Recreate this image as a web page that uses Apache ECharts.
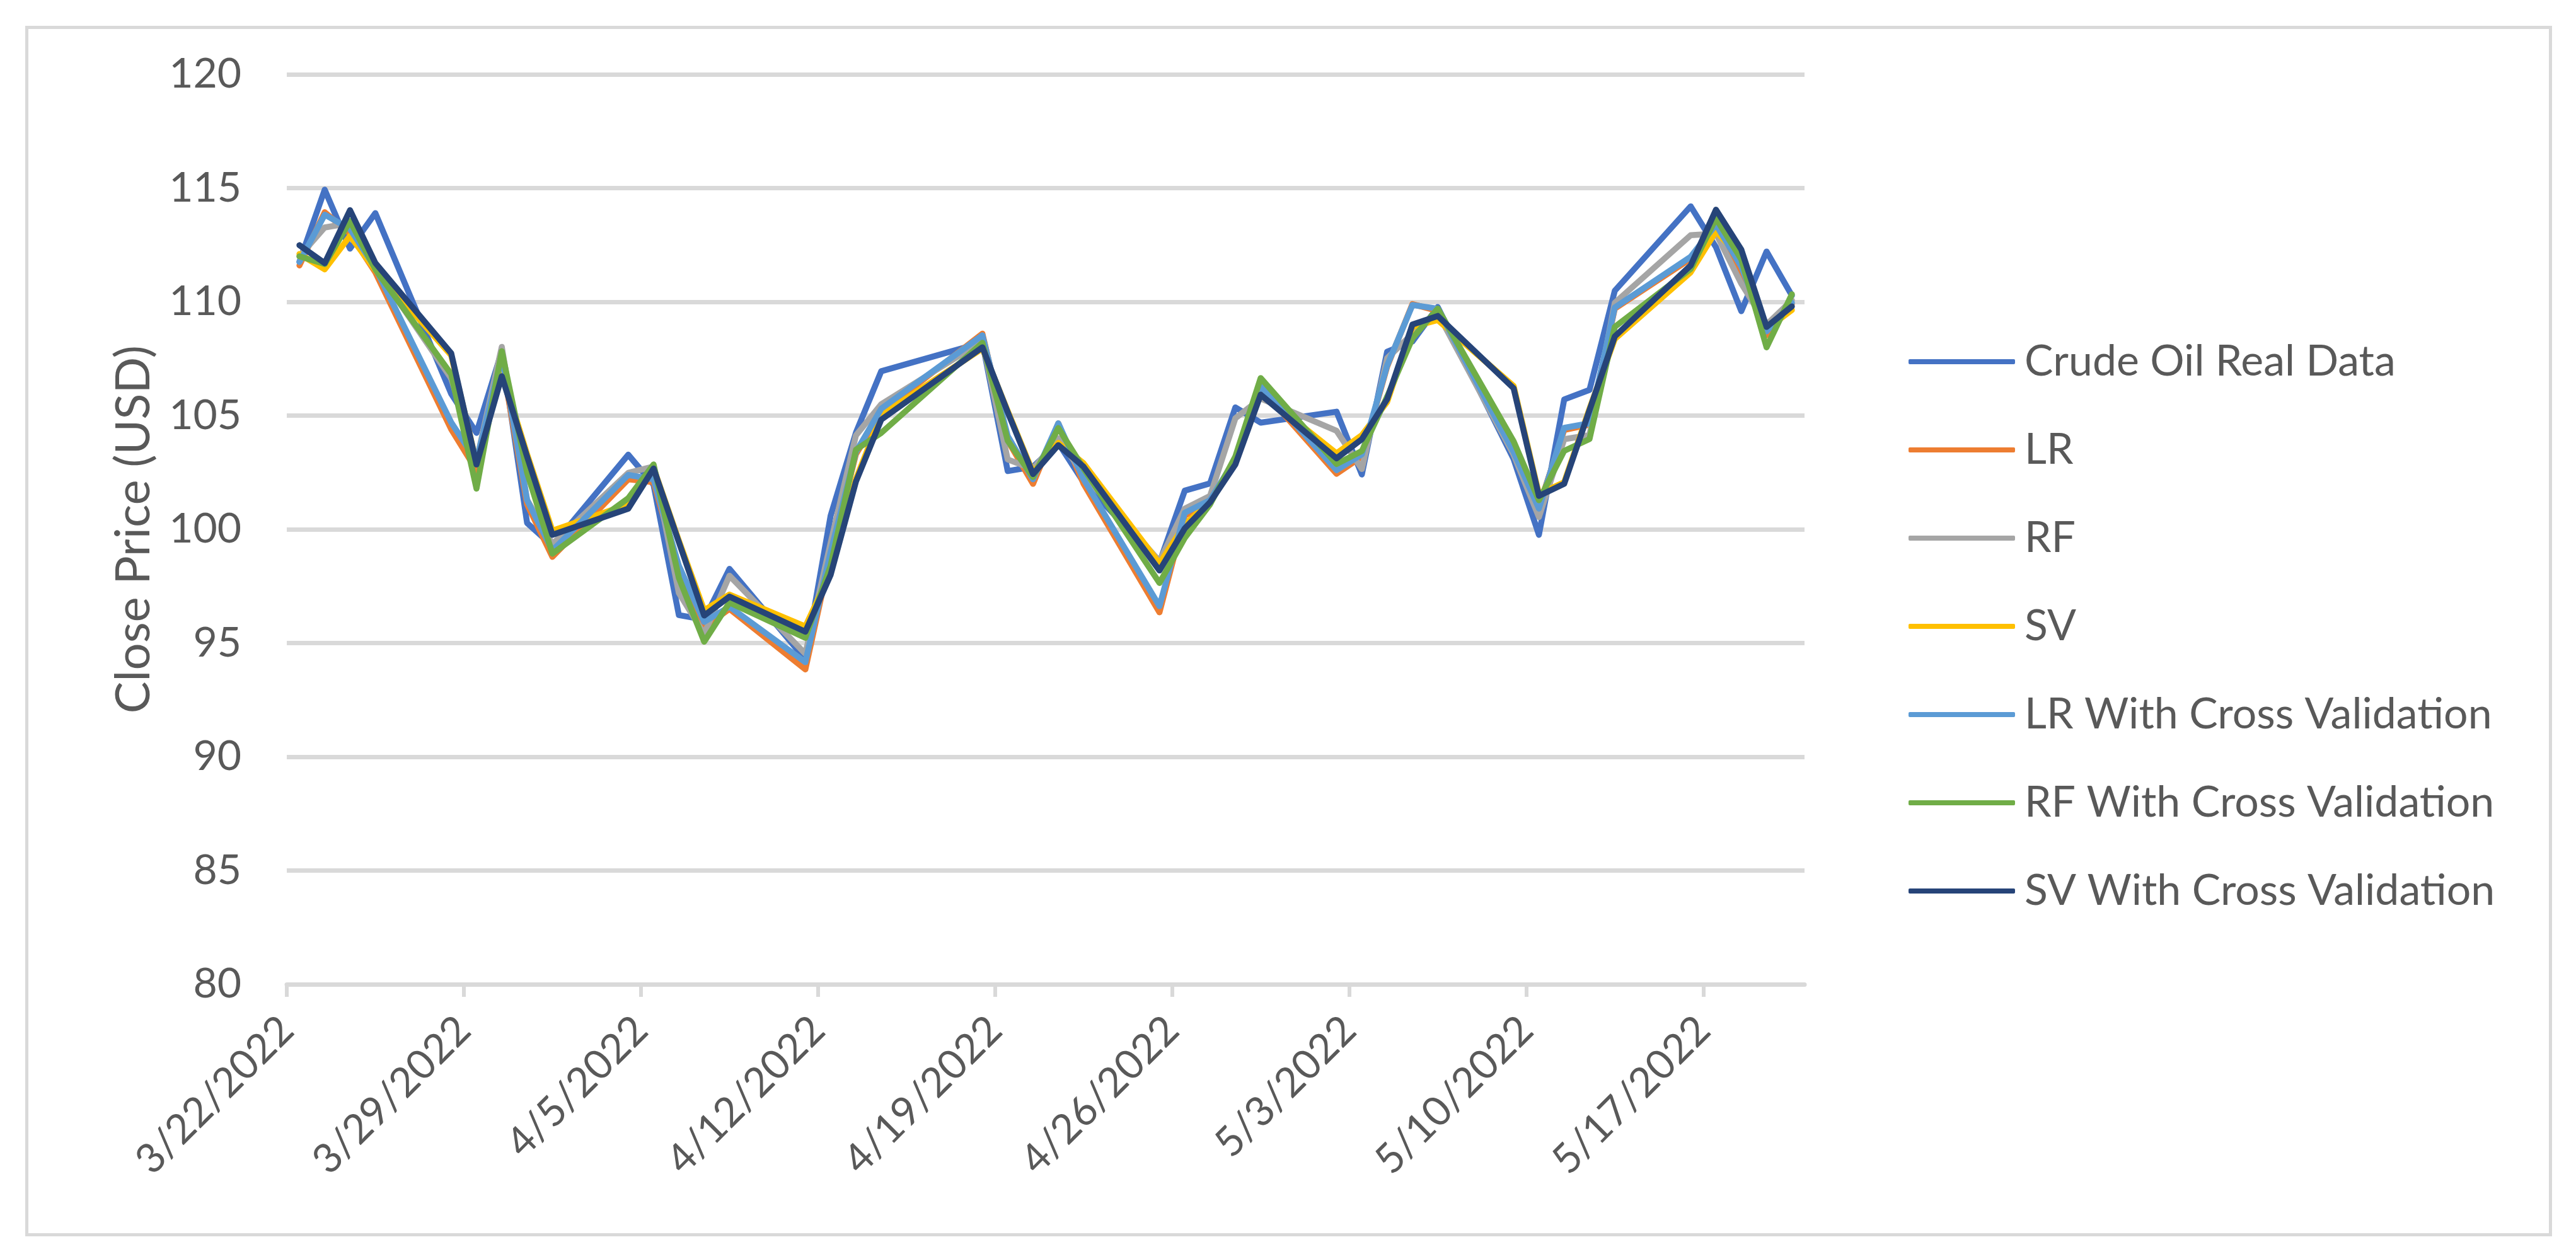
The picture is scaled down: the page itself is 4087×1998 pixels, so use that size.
<!DOCTYPE html>
<html><head><meta charset="utf-8">
<script src="https://cdn.jsdelivr.net/npm/echarts/dist/echarts.min.js"></script>
<style>html,body{margin:0;padding:0;background:#fff}#c{width:4087px;height:1998px}</style>
</head><body><div id="c"></div>
<script>
const dates = ['3/22/2022','3/23/2022','3/24/2022','3/25/2022',
  '3/28/2022','3/29/2022','3/30/2022','3/31/2022','4/1/2022',
  '4/4/2022','4/5/2022','4/6/2022','4/7/2022','4/8/2022',
  '4/11/2022','4/12/2022','4/13/2022','4/14/2022',
  '4/18/2022','4/19/2022','4/20/2022','4/21/2022','4/22/2022',
  '4/25/2022','4/26/2022','4/27/2022','4/28/2022','4/29/2022',
  '5/2/2022','5/3/2022','5/4/2022','5/5/2022','5/6/2022',
  '5/9/2022','5/10/2022','5/11/2022','5/12/2022','5/13/2022',
  '5/16/2022','5/17/2022','5/18/2022','5/19/2022','5/20/2022'];
const crude = [111.76,114.93,112.34,113.90, 105.96,104.24,107.82,100.28,99.27, 103.28,101.96,96.23,96.03,98.26, 94.29,100.60,104.25,106.95, 108.21,102.56,102.75,103.79,102.07, 98.54,101.70,102.02,105.36,104.69, 105.17,102.41,107.81,108.26,109.77, 103.09,99.76,105.71,106.13,110.49, 114.20,112.40,109.59,112.21,110.28];
const lr = [111.6,113.94,113.0,111.3, 104.4,102.6,107.4,101.1,98.79, 102.2,102.07,98.2,95.7,96.5, 93.84,98.9,103.3,105.14, 108.6,103.9,102.0,104.66,102.0, 96.35,100.6,101.2,103.0,106.2, 102.44,103.2,107.15,109.9,109.6, 103.3,101.0,104.37,104.6,109.7, 111.9,113.3,111.34,108.53,109.9];
const rf = [112.0,113.27,113.46,111.5, 106.63,103.0,108.02,101.3,99.35, 102.48,102.76,97.2,95.4,97.96, 94.53,99.4,104.13,105.5, 108.27,103.07,102.65,104.0,102.4, 98.6,100.91,101.47,104.88,105.75, 104.33,102.65,107.52,108.6,109.5, 103.28,100.54,103.96,104.14,109.96, 112.93,113.0,110.8,109.0,110.07];
const sv = [112.1,111.43,112.9,111.4, 107.65,102.9,106.9,103.3,99.94, 101.1,102.7,99.5,96.44,97.13, 95.73,98.1,102.2,105.03, 107.95,105.2,102.5,103.8,102.9, 98.5,100.2,101.25,102.9,105.99, 103.34,104.14,105.6,108.9,109.2, 106.3,101.55,102.07,105.3,108.37, 111.3,113.1,111.9,108.8,109.64];
const lrCV = [111.75,113.83,113.2,111.5, 104.7,103.0,107.6,101.28,99.07, 102.39,102.2,98.4,95.93,96.6, 94.16,99.0,103.4,105.3, 108.53,104.1,102.2,104.66,102.2, 96.62,100.73,101.28,103.1,106.3, 102.6,103.3,107.2,109.86,109.7, 103.4,100.91,104.46,104.66,109.75, 111.98,113.4,111.55,108.7,109.96];
const rfCV = [112.0,111.66,113.55,111.43, 106.82,101.79,107.83,102.5,98.93, 101.37,102.85,97.87,95.06,96.78, 95.23,98.4,103.5,104.24, 108.2,103.9,102.3,104.45,102.67, 97.64,99.62,101.1,103.2,106.65, 102.87,103.44,105.83,108.4,109.7, 103.87,101.28,103.45,103.97,108.9, 111.45,113.67,111.87,108.0,110.33];
const svCV = [112.49,111.7,114.03,111.71, 107.74,102.85,106.73,103.2,99.76, 100.91,102.67,99.44,96.21,97.04, 95.5,98.0,102.1,104.82, 108.0,105.15,102.43,103.7,102.75, 98.19,100.04,101.19,102.85,105.92, 103.12,103.96,105.72,109.0,109.38, 106.2,101.47,102.0,105.24,108.48, 111.6,114.05,112.3,108.9,109.8];
const seriesNames = ['Crude Oil Real Data','LR','RF','SV','LR With Cross Validation','RF With Cross Validation','SV With Cross Validation'];
const xTickLabels = ['3/22/2022','3/29/2022','4/5/2022','4/12/2022','4/19/2022','4/26/2022','5/3/2022','5/10/2022','5/17/2022'];
const axisStartDate = '3/22/2022';
const axisEndDate = '5/21/2022';
const yMin = 80, yMax = 120, yStep = 5;

function dayOffset(s){
  const p = s.split('/').map(Number);
  const a = axisStartDate.split('/').map(Number);
  return Math.round((Date.UTC(p[2],p[0]-1,p[1]) - Date.UTC(a[2],a[0]-1,a[1]))/86400000);
}
const colors = ['#4472C4','#ED7D31','#A5A5A5','#FFC000','#5B9BD5','#70AD47','#264478'];
const allValues = [crude, lr, rf, sv, lrCV, rfCV, svCV];
const tickPos = xTickLabels.map(dayOffset);
const labelMap = {};
xTickLabels.forEach(function(l){ labelMap[dayOffset(l)] = l; });
const FONT = 'Lato';

const chart = echarts.init(document.getElementById('c'), null, {renderer:'canvas'});
chart.setOption({
  animation: false,
  backgroundColor: '#ffffff',
  color: colors,
  graphic: [{
    type: 'rect', left: 40, top: 41, silent: true, z: -10,
    shape: {width: 4004, height: 1916},
    style: {fill: 'none', stroke: '#D9D9D9', lineWidth: 5}
  }],
  grid: {left: 455, top: 118, width: 2408, height: 1444, containLabel: false},
  legend: {
    orient: 'vertical', left: 3028, top: 540, padding: 0,
    itemWidth: 169, itemHeight: 8, itemGap: 72, icon: 'roundRect',
    textStyle: {fontSize: 68, fontFamily: FONT, color: '#595959', lineHeight: 62, padding: [0,0,0,10]},
    data: seriesNames
  },
  xAxis: {
    type: 'value', min: dayOffset(axisStartDate), max: dayOffset(axisEndDate),
    splitLine: {show: false},
    axisLine: {show: true, lineStyle: {color: '#D9D9D9', width: 7}},
    axisTick: {show: true, customValues: tickPos, length: 20, lineStyle: {color: '#D9D9D9', width: 6}},
    axisLabel: {
      customValues: tickPos, rotate: 45, margin: 62,
      fontSize: 65, fontFamily: FONT, color: '#595959',
      formatter: function(v){ return labelMap[Math.round(v)] || ''; }
    }
  },
  yAxis: {
    type: 'value', min: yMin, max: yMax, interval: yStep,
    name: 'Close Price (USD)', nameLocation: 'middle', nameGap: 205,
    nameTextStyle: {fontSize: 76, fontFamily: FONT, color: '#595959'},
    axisLine: {show: false}, axisTick: {show: false},
    axisLabel: {margin: 72, fontSize: 66, fontFamily: FONT, color: '#595959'},
    splitLine: {lineStyle: {color: '#D9D9D9', width: 7}}
  },
  series: seriesNames.map(function(n, i){
    return {
      name: n, type: 'line', symbol: 'none', smooth: false,
      lineStyle: {width: 9.5, color: colors[i], join: 'round', cap: 'round'},
      itemStyle: {color: colors[i]},
      data: dates.map(function(d, j){ return [dayOffset(d) + 0.5, allValues[i][j]]; })
    };
  })
});
</script>
</body></html>
